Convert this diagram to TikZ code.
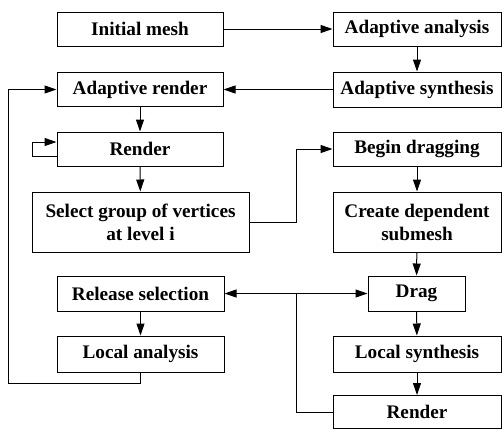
\documentclass[tikz,border=0pt]{standalone}
\usepackage{fontspec}
\setmainfont{Liberation Serif}
\usetikzlibrary{arrows.meta,calc}

\tikzset{
    blk/.style={draw, line width=1pt, inner sep=0pt, align=center,
        font=\fontsize{19.2}{23}\selectfont\bfseries,
        minimum width=166pt, minimum height=34pt},
    arr/.style={line width=1pt, -{Triangle[length=12pt,width=8pt]}},
    ln/.style={line width=1pt}
}

\begin{document}
\begin{tikzpicture}[x=1pt, y=-1pt]
    \useasboundingbox (0,0) rectangle (502,429);

    % Left column
    \node[blk] (init) at (140,29) {Initial mesh};
    \node[blk] (arend) at (140,89.5) {Adaptive render};
    \node[blk] (rend) at (140,149) {Render};
    \node[blk, minimum width=217pt, minimum height=60pt] (sel) at (140.5,222) {Select group of vertices\\at level i};
    \node[blk, minimum width=167pt, minimum height=35pt] (rel) at (140.5,293.5) {Release selection};
    \node[blk, minimum width=167pt, minimum height=36pt] (lana) at (140.5,354) {Local analysis};

    % Right column
    \node[blk, minimum width=168pt] (aana) at (417,29) {Adaptive analysis};
    \node[blk, minimum width=168pt, minimum height=35pt] (asyn) at (417,89.5) {Adaptive synthesis};
    \node[blk, minimum width=168pt] (begd) at (417,149) {Begin dragging};
    \node[blk, minimum width=168pt, minimum height=60pt] (cdep) at (417,222) {Create dependent\\submesh};
    \node[blk, minimum width=97pt, minimum height=35pt] (drag) at (416.5,293.5) {Drag};
    \node[blk, minimum width=168pt, minimum height=36pt] (lsyn) at (417,354) {Local synthesis};
    \node[blk, minimum width=168pt, minimum height=33pt] (rend2) at (417,412) {Render};

    % Junctions
    \coordinate (bus) at (296,293.5);
    \coordinate (fb) at (8,383);

    % Main flow
    \draw[arr] (init) -- (aana);
    \draw[arr] (aana) -- (asyn);
    \draw[arr] (asyn) -- (arend);
    \draw[arr] (arend) -- (rend);
    \draw[arr] ([yshift=-7pt]rend.west) -- ++(-24,0) |- ([yshift=7pt]rend.west);
    \draw[arr] (rend) -- (sel);
    \draw[arr] (sel.east) -| (bus |- begd.west) -- (begd.west);
    \draw[arr] (begd) -- (cdep);
    \draw[arr] (cdep) -- (drag);
    \draw[arr] (drag) -- (lsyn);
    \draw[arr] (lsyn) -- (rend2);
    \draw[arr] (rel) -- (lana);

    % Drag / release
    \draw[arr] (bus) -- (rel.east);
    \draw[arr] (bus) -- (drag.west);
    \draw[ln] (rend2.west) -| (bus);

    % Feedback
    \draw[arr] (lana.south) |- (fb) |- (arend.west);
\end{tikzpicture}
\end{document}
